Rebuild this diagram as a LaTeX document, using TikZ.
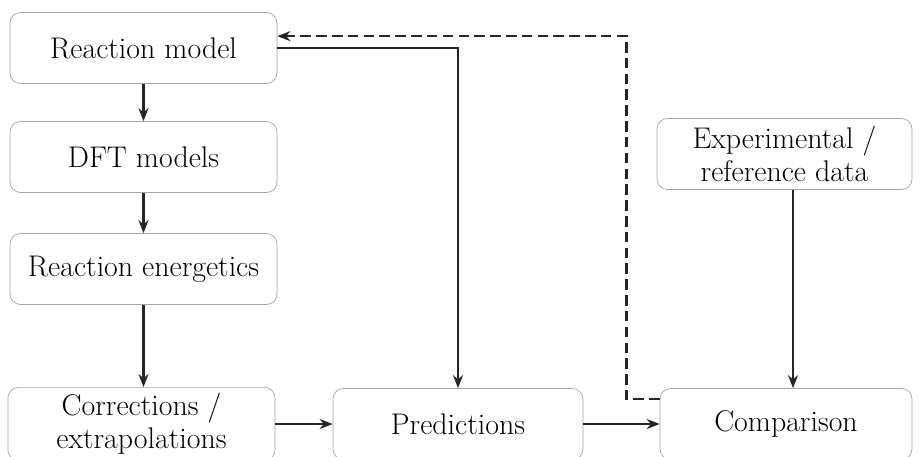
\documentclass[tikz,border=0pt]{standalone}
\usepackage{tikz}
\usetikzlibrary{positioning,arrows.meta,calc}

\begin{document}
\begin{tikzpicture}[
  box/.style={draw=gray!70, rounded corners=6pt, fill=white, minimum width=5.34cm, minimum height=1.42cm, font=\fontsize{17}{19}\selectfont, align=center},
  arr/.style={-{Stealth[length=2.6mm,width=2mm]}, line width=1.4pt, black!85},
  back/.style={-{Stealth[length=2.6mm,width=2mm]}, line width=1.4pt, black!85, dash pattern=on 6pt off 3pt}
]
\useasboundingbox (0,0) rectangle (18.4,-9.12);

\node[box] (model) at (2.87, -0.96) {Reaction model};
\node[box] (dft)   at (2.87, -3.14) {DFT models};
\node[box] (ener)  at (2.87, -5.38) {Reaction energetics};
\node[box] (corr)  at (2.83, -8.48) {Corrections /\\ extrapolations};
\node[box, minimum width=5.0cm] (pred) at (9.16, -8.48) {Predictions};
\node[box, minimum width=5.04cm] (comp) at (15.72, -8.48) {Comparison};
\node[box, minimum width=5.1cm] (expt) at (15.69, -3.08) {Experimental /\\ reference data};

\draw[arr] (model) -- (dft);
\draw[arr] (dft) -- (ener);
\draw[arr] (ener) -- (corr.north -| ener.south);
\draw[arr] (corr) -- (pred);
\draw[arr] (pred) -- (comp);
\draw[arr] (expt.south -| 15.86,0) -- (comp.north -| 15.86,0);
\draw[arr] (model.east) -| (pred.north);
\coordinate (fb) at ($(comp.north west)+(0,-0.22)$);
\draw[back] (fb) -- ++(-0.66,0) |- ($(model.north east)+(0,-0.48)$);

\end{tikzpicture}
\end{document}
